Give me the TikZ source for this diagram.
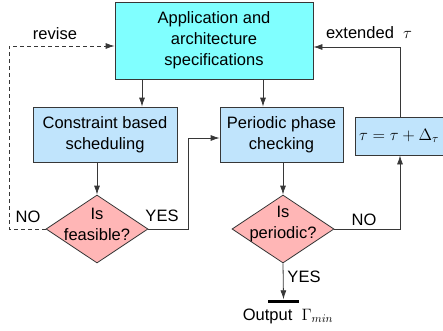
\RequirePackage{fix-cm}
\documentclass[tikz,border=0pt]{standalone}
\usepackage{fontspec}
\setmainfont{Liberation Sans}
\usetikzlibrary{shapes.geometric,arrows.meta}
\definecolor{boxcyan}{RGB}{128,255,255}
\definecolor{boxblue}{RGB}{192,228,252}
\definecolor{dpink}{RGB}{255,182,182}
\definecolor{edgegray}{RGB}{55,55,55}
\begin{document}
\begin{tikzpicture}[x=1pt,y=-1pt,
  every node/.style={font=\fontsize{16.5}{21}\selectfont},
  blk/.style={draw=edgegray,line width=0.8pt,align=center,inner sep=0pt},
  dia/.style={draw=edgegray,fill=dpink,shape=diamond,line width=0.8pt,inner sep=0pt,minimum width=102pt,minimum height=68pt},
  txt/.style={align=center,inner sep=0pt},
  arr/.style={draw=edgegray,line width=0.8pt,-{Latex[length=9pt,width=6pt]}}
]
\useasboundingbox (0,0) rectangle (443,330);

\node[blk,fill=boxcyan,minimum width=198pt,minimum height=77pt] (spec) at (214,40.5) {Application and\\architecture\\specifications};
\node[blk,fill=boxblue,minimum width=144pt,minimum height=55pt] (cons) at (105,134.5) {Constraint based\\scheduling};
\node[blk,fill=boxblue,minimum width=123pt,minimum height=55pt] (per) at (281.5,134.5) {Periodic phase\\checking};
\node[blk,fill=boxblue,minimum width=90pt,minimum height=38pt] (tau) at (400,136) {};
\node[txt,anchor=west] (taut) at (359,136) {$\tau=\tau+\Delta_\tau$};

\node[dia] (feas) at (97,229) {};
\node[txt] (feast) at (97,224) {Is\\feasible?};
\node[dia] (perd) at (283,229) {};
\node[txt] (perdt) at (283,224) {Is\\periodic?};

\node[fill=black,inner sep=0pt,minimum width=31pt,minimum height=3pt] (bar) at (283.5,301) {};

\coordinate (x1) at (142,0);
\coordinate (x2) at (263,0);
\coordinate (x3) at (97,0);
\coordinate (x4) at (283,0);
\coordinate (y1) at (188,138);
\coordinate (n1) at (9,46);
\coordinate (e1) at (400,47);

\draw[arr] (x1 |- spec.south) -- (x1 |- cons.north);
\draw[arr] (x2 |- spec.south) -- (x2 |- per.north);
\draw[arr] (x3 |- cons.south) -- (feas.north);
\draw[arr] (x4 |- per.south) -- (perd.north);
\draw[arr] (feas.east) -| (y1) -- (y1 -| per.west);
\draw[arr,dash pattern=on 4pt off 3pt] (feas.west) -| (n1) -- (n1 -| spec.west);
\draw[arr] (perd.east) -| (tau.south);
\draw[arr] (tau.north) |- (e1 -| spec.east);
\draw[arr] (perd.south) -- (bar.north);

\node[txt] (revise) at (55,34) {revise};
\node[txt] (ext) at (369,33) {extended\ \ $\tau$};
\node[txt] (no1) at (28,217) {NO};
\node[txt] (yes1) at (162,216) {YES};
\node[txt] (no2) at (364,220) {NO};
\node[txt] (yes2) at (304,277) {YES};
\node[txt] (out) at (288,316) {Output\ \ $\Gamma_{min}$};
\end{tikzpicture}
\end{document}
